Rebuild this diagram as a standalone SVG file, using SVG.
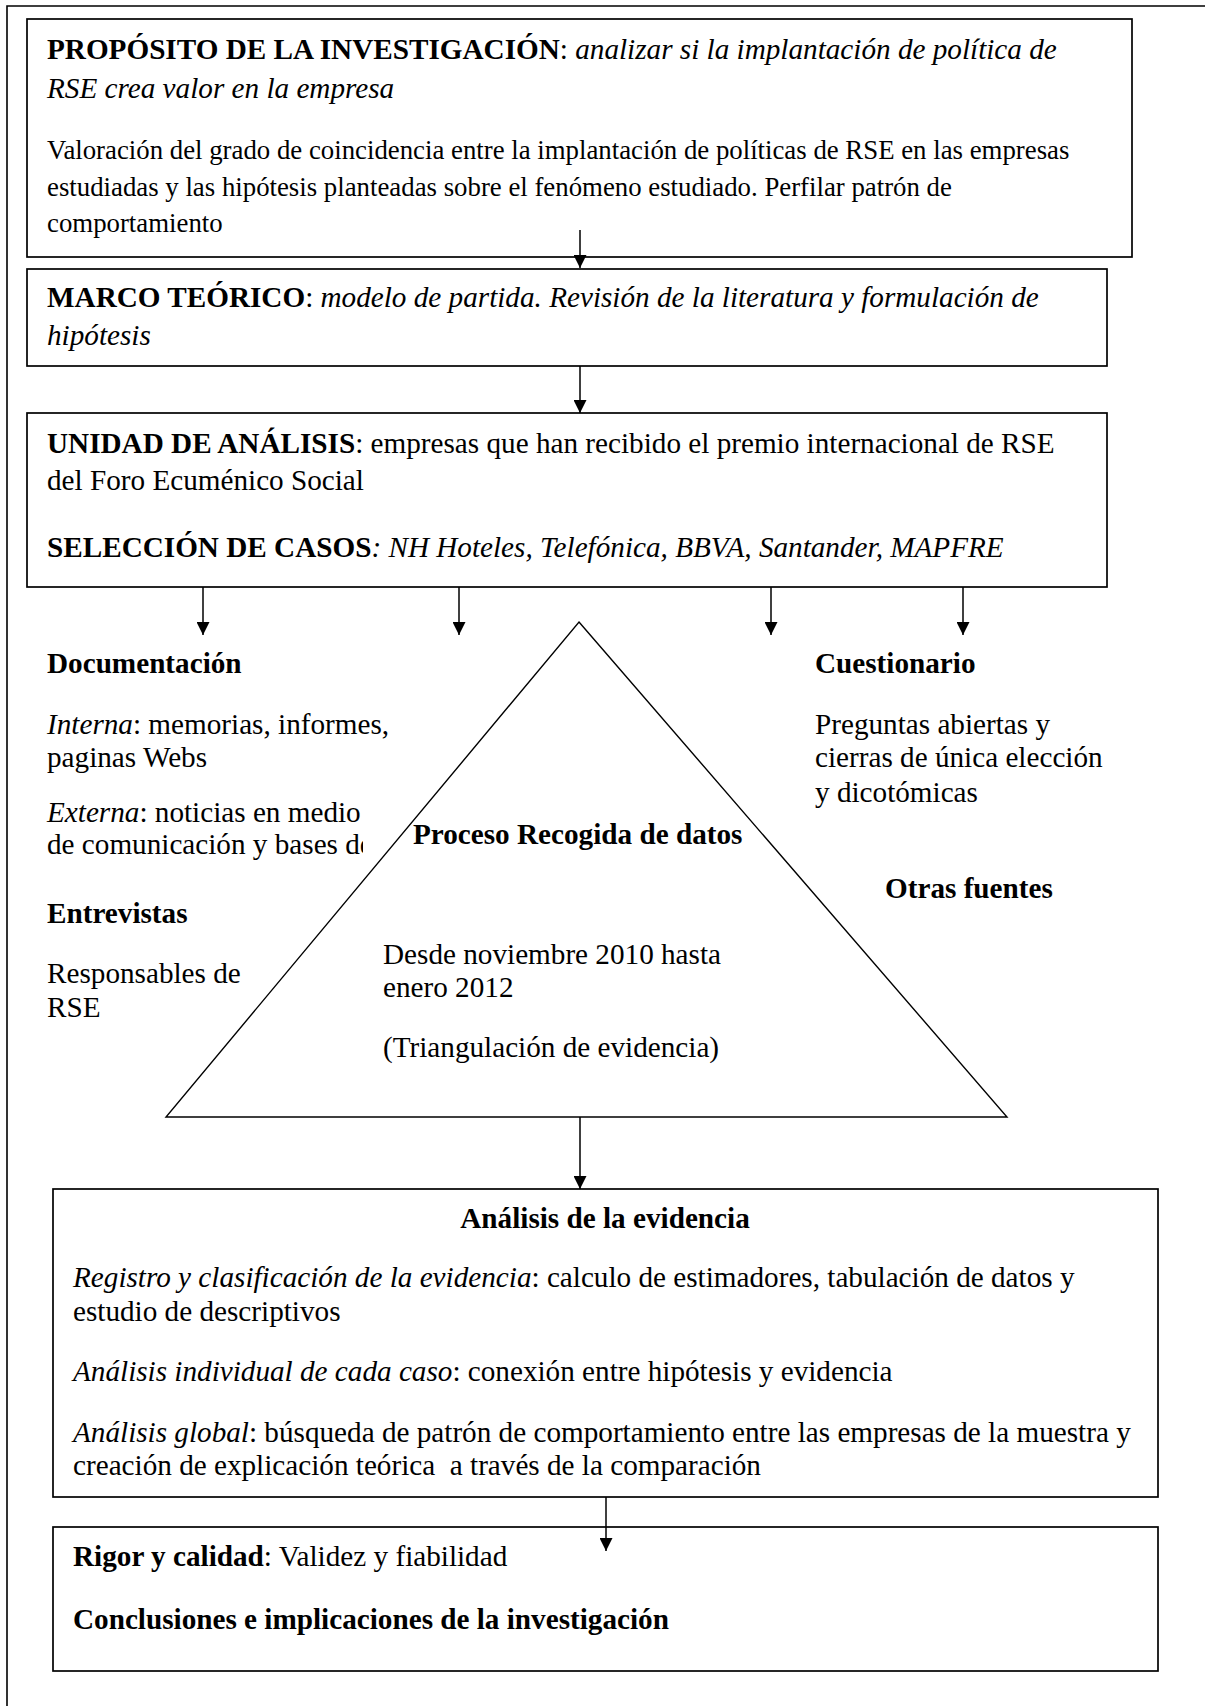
<svg xmlns="http://www.w3.org/2000/svg" width="1205" height="1706" viewBox="0 0 1205 1706">
  <style>
    text { font-family: "Liberation Serif", "Times New Roman", serif; font-size: 29.2px; fill: #000; }
    .small { font-size: 26.8px; }
    .b { font-weight: bold; }
    .i { font-style: italic; }
    .box { fill: #fff; stroke: #000; stroke-width: 1.7; }
    .tri { fill: #fff; stroke: #000; stroke-width: 1.4; }
    .frame { fill: none; stroke: #000; stroke-width: 1.6; }
    .conn { fill: none; stroke: #000; stroke-width: 1.5; marker-end: url(#arrow); }
  </style>
  <defs>
    <marker id="arrow" viewBox="0 0 10 10" refX="10" refY="5" markerWidth="14" markerHeight="13" markerUnits="userSpaceOnUse" orient="auto">
      <path d="M0,0 L10,5 L0,10 z" fill="#000"/>
    </marker>
    <clipPath id="clip-externa">
      <rect x="0" y="780" width="363" height="100"/>
    </clipPath>
  </defs>

  <rect width="1205" height="1706" fill="#fff"/>

  <!-- outer page frame -->
  <path class="frame" d="M7,1706 V6 H1205"/>

  <!-- research purpose -->
  <g id="node-proposito">
    <rect class="box" x="27" y="19" width="1105" height="238"/>
    <text x="47" y="59"><tspan class="b">PROPÓSITO DE LA INVESTIGACIÓN</tspan>: <tspan class="i">analizar si la implantación de política de</tspan></text>
    <text x="47" y="98" class="i">RSE crea valor en la empresa</text>
    <text x="47" y="159" class="small">Valoración del grado de coincidencia entre la implantación de políticas de RSE en las empresas</text>
    <text x="47" y="196" class="small">estudiadas y las hipótesis planteadas sobre el fenómeno estudiado. Perfilar patrón de</text>
    <text x="47" y="232" class="small">comportamiento</text>
  </g>

  <!-- theoretical framework -->
  <g id="node-marco">
    <rect class="box" x="27" y="269" width="1080" height="97"/>
    <text x="47" y="307"><tspan class="b">MARCO TEÓRICO</tspan>: <tspan class="i">modelo de partida. Revisión de la literatura y formulación de</tspan></text>
    <text x="47" y="345" class="i">hipótesis</text>
  </g>

  <!-- unit of analysis and case selection -->
  <g id="node-unidad">
    <rect class="box" x="27" y="413" width="1080" height="174"/>
    <text x="47" y="453"><tspan class="b">UNIDAD DE ANÁLISIS</tspan>: empresas que han recibido el premio internacional de RSE</text>
    <text x="47" y="490">del Foro Ecuménico Social</text>
    <text x="47" y="557"><tspan class="b">SELECCIÓN DE CASOS</tspan><tspan class="i">: NH Hoteles, Telefónica, BBVA, Santander, MAPFRE</tspan></text>
  </g>

  <!-- data collection triangle -->
  <g id="node-proceso">
    <polygon class="tri" points="579,622 1007,1117 166,1117"/>
    <text x="413" y="844" class="b">Proceso Recogida de datos</text>
    <text x="383" y="964">Desde noviembre 2010 hasta</text>
    <text x="383" y="997">enero 2012</text>
    <text x="383" y="1057">(Triangulación de evidencia)</text>
  </g>

  <!-- documentation sources -->
  <g id="node-documentacion">
    <text x="47" y="673" class="b">Documentación</text>
    <text x="47" y="734"><tspan class="i">Interna</tspan>: memorias, informes,</text>
    <text x="47" y="767">paginas Webs</text>
    <g clip-path="url(#clip-externa)">
      <text x="47" y="822"><tspan class="i">Externa</tspan>: noticias en medio</text>
      <text x="47" y="854">de comunicación y bases de</text>
    </g>
  </g>

  <!-- interviews -->
  <g id="node-entrevistas">
    <text x="47" y="923" class="b">Entrevistas</text>
    <text x="47" y="983">Responsables de</text>
    <text x="47" y="1017">RSE</text>
  </g>

  <!-- questionnaire -->
  <g id="node-cuestionario">
    <text x="815" y="673" class="b">Cuestionario</text>
    <text x="815" y="734">Preguntas abiertas y</text>
    <text x="815" y="767">cierras de única elección</text>
    <text x="815" y="802">y dicotómicas</text>
  </g>

  <!-- other sources -->
  <g id="node-otras">
    <text x="885" y="898" class="b">Otras fuentes</text>
  </g>

  <!-- evidence analysis -->
  <g id="node-analisis">
    <rect class="box" x="53" y="1189" width="1105" height="308"/>
    <text x="605" y="1228" class="b" text-anchor="middle">Análisis de la evidencia</text>
    <text x="73" y="1287"><tspan class="i">Registro y clasificación de la evidencia</tspan>: calculo de estimadores, tabulación de datos y</text>
    <text x="73" y="1321">estudio de descriptivos</text>
    <text x="73" y="1381"><tspan class="i">Análisis individual de cada caso</tspan>: conexión entre hipótesis y evidencia</text>
    <text x="73" y="1442"><tspan class="i">Análisis global</tspan>: búsqueda de patrón de comportamiento entre las empresas de la muestra y</text>
    <text x="73" y="1475" xml:space="preserve">creación de explicación teórica  a través de la comparación</text>
  </g>

  <!-- rigour and conclusions -->
  <g id="node-rigor">
    <rect class="box" x="53" y="1527" width="1105" height="144"/>
    <text x="73" y="1566"><tspan class="b">Rigor y calidad</tspan>: Validez y fiabilidad</text>
    <text x="73" y="1629" class="b">Conclusiones e implicaciones de la investigación</text>
  </g>

  <!-- connectors -->
  <g id="connectors">
    <line class="conn" x1="580" y1="230" x2="580" y2="268"/>
    <line class="conn" x1="580" y1="366" x2="580" y2="413"/>
    <line class="conn" x1="203" y1="587" x2="203" y2="635"/>
    <line class="conn" x1="459" y1="587" x2="459" y2="635"/>
    <line class="conn" x1="771" y1="587" x2="771" y2="635"/>
    <line class="conn" x1="963" y1="587" x2="963" y2="635"/>
    <line class="conn" x1="580" y1="1117" x2="580" y2="1189"/>
    <line class="conn" x1="606" y1="1497" x2="606" y2="1551"/>
  </g>
</svg>
